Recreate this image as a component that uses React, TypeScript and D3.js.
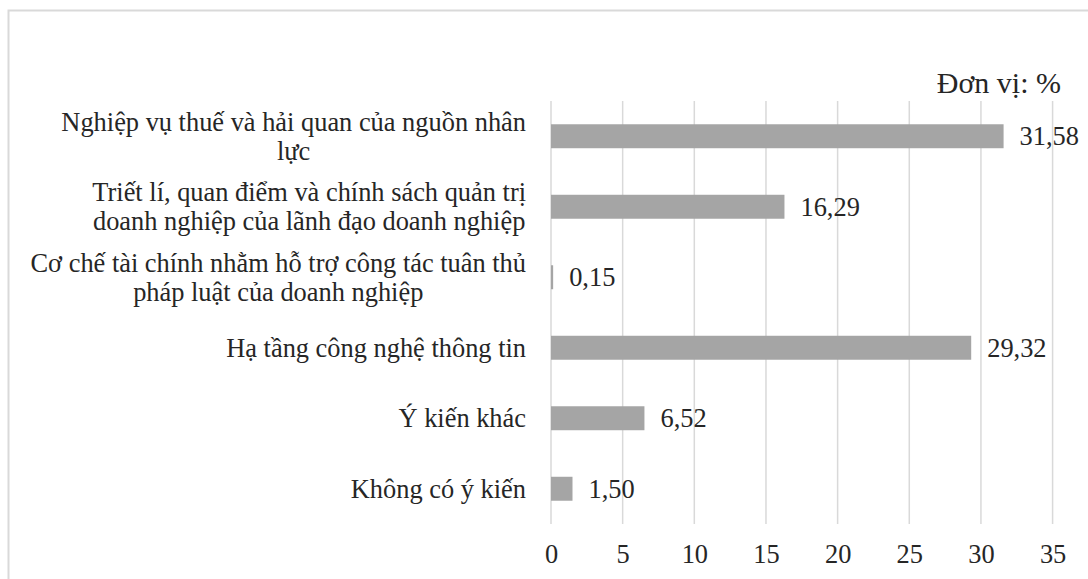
import React, { useEffect, useRef } from "react";
import * as d3 from "d3";

// Categories (each entry is the list of lines shown on the axis)
const categories: string[][] = [
  ["Nghiệp vụ thuế và hải quan của nguồn nhân", "lực"],
  ["Triết lí, quan điểm và chính sách quản trị", "doanh nghiệp của lãnh đạo doanh nghiệp"],
  ["Cơ chế tài chính nhằm hỗ trợ công tác tuân thủ", "pháp luật của doanh nghiệp"],
  ["Hạ tầng công nghệ thông tin"],
  ["Ý kiến khác"],
  ["Không có ý kiến"],
];

const values: number[] = [31.58, 16.29, 0.15, 29.32, 6.52, 1.5];

const xTicks: number[] = [0, 5, 10, 15, 20, 25, 30, 35];

const unitLabel = "Đơn vị: %";

const W = 1088;
const H = 579;
const FONT = "Liberation Serif";
const FS = 26.4;
const TEXT = "#262626";
const GRID = "#d9d9d9";
const BAR = "#a5a5a5";

const fmt = (v: number) => v.toFixed(2).replace(".", ",");

export default function App() {
  const ref = useRef<SVGSVGElement | null>(null);

  useEffect(() => {
    const svg = d3.select(ref.current);
    svg.selectAll("*").remove();

    const x = d3.scaleLinear().domain([0, 35]).range([551, 1052.6]);
    const idx = categories.map((_, i) => String(i));
    const y = d3
      .scaleBand<string>()
      .domain(idx)
      .range([101, 524])
      .paddingInner(0.66)
      .paddingOuter(0.33);

    // outer frame
    svg
      .append("rect")
      .attr("x", 8.5)
      .attr("y", 10.5)
      .attr("width", W + 20)
      .attr("height", H + 20)
      .attr("fill", "none")
      .attr("stroke", GRID)
      .attr("stroke-width", 2);

    // vertical gridlines
    svg
      .append("g")
      .selectAll("line")
      .data(xTicks)
      .join("line")
      .attr("x1", (d) => x(d))
      .attr("x2", (d) => x(d))
      .attr("y1", 101)
      .attr("y2", 524)
      .attr("stroke", GRID)
      .attr("stroke-width", 1.5);

    // x axis labels
    const axis = d3
      .axisBottom(x)
      .tickValues(xTicks)
      .tickSize(0)
      .tickPadding(0)
      .tickFormat((d) => String(d));
    const ax = svg.append("g").attr("transform", "translate(0,544)").call(axis);
    ax.select(".domain").remove();
    ax.style("font-family", FONT).style("font-size", `${FS}px`);
    ax.selectAll("text")
      .style("font-family", FONT)
      .style("font-size", `${FS}px`)
      .attr("fill", TEXT)
      .attr("dy", "0.71em");

    // bars
    svg
      .append("g")
      .selectAll("rect")
      .data(values)
      .join("rect")
      .attr("x", x(0))
      .attr("y", (_, i) => y(String(i)) as number)
      .attr("width", (d) => Math.max(x(d) - x(0), 1.5))
      .attr("height", y.bandwidth())
      .attr("fill", BAR);

    // value labels
    svg
      .append("g")
      .selectAll("text")
      .data(values)
      .join("text")
      .attr("x", (d) => Math.max(x(d), x(0) + 1.5) + 16)
      .attr("y", (_, i) => (y(String(i)) as number) + y.bandwidth() / 2)
      .attr("dy", "0.34em")
      .style("font-family", FONT)
      .style("font-size", `${FS}px`)
      .attr("fill", TEXT)
      .text((d) => fmt(d));

    // category labels: lines centred within a block whose right edge sits at 526
    const lineH = 29;
    const labels = svg.append("g");
    categories.forEach((lines, i) => {
      const cy = (y(String(i)) as number) + y.bandwidth() / 2;
      const g = labels.append("g");
      const texts = lines.map((ln, j) =>
        g
          .append("text")
          .style("font-family", FONT)
          .style("font-size", `${FS}px`)
          .attr("fill", TEXT)
          .attr("text-anchor", "middle")
          .attr("y", cy + (j - (lines.length - 1) / 2) * lineH)
          .attr("dy", "0.34em")
          .text(ln)
      );
      const widths = texts.map((t) => (t.node() as SVGTextElement).getComputedTextLength());
      const maxW = d3.max(widths) ?? 0;
      texts.forEach((t) => t.attr("x", 526 - maxW / 2));
    });

    // unit note
    svg
      .append("text")
      .attr("x", 1061)
      .attr("y", 93)
      .attr("text-anchor", "end")
      .style("font-family", FONT)
      .style("font-size", "30px")
      .attr("fill", TEXT)
      .text(unitLabel);
  }, []);

  return (
    <svg
      ref={ref}
      width={W}
      height={H}
      style={{ position: "absolute", left: 0, top: 0, background: "#fff", fontFamily: FONT }}
    />
  );
}
